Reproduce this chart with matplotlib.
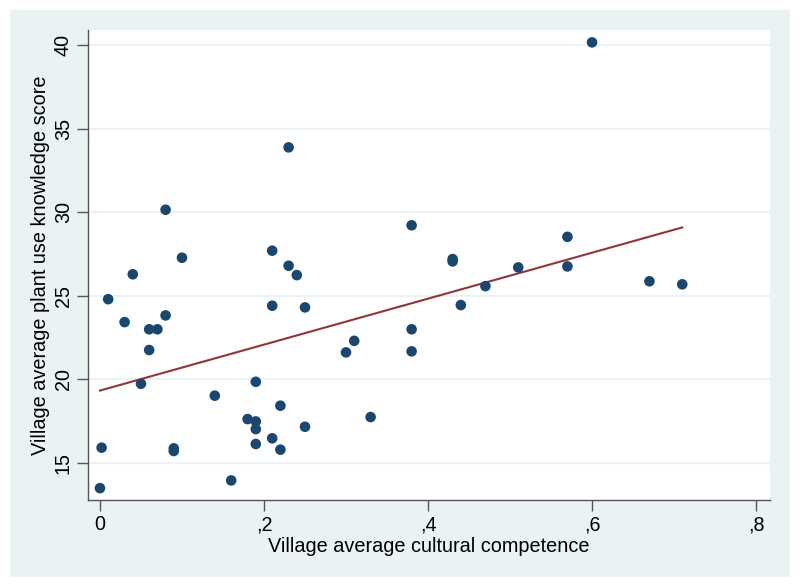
import numpy as np
import matplotlib
matplotlib.use("Agg")
import matplotlib.pyplot as plt
from matplotlib.patches import Rectangle

# Data
competence = [0.00, 0.002, 0.01, 0.03, 0.04, 0.05, 0.06, 0.06, 0.07, 0.08,
              0.08, 0.09, 0.09, 0.10, 0.14, 0.16, 0.18, 0.19, 0.19, 0.19,
              0.19, 0.21, 0.21, 0.21, 0.22, 0.22, 0.23, 0.23, 0.24, 0.25,
              0.25, 0.30, 0.31, 0.33, 0.38, 0.38, 0.38, 0.43, 0.43, 0.44,
              0.47, 0.51, 0.57, 0.57, 0.60, 0.67, 0.71]
knowledge = [13.50, 15.92, 24.80, 23.43, 26.29, 19.74, 23.00, 21.76, 23.00, 23.83,
             30.15, 15.88, 15.72, 27.28, 19.03, 13.96, 17.63, 19.86, 17.49, 17.03,
             16.14, 24.41, 27.70, 16.48, 18.43, 15.80, 33.88, 26.80, 26.24, 24.31,
             17.17, 21.62, 22.31, 17.75, 29.22, 23.00, 21.68, 27.20, 27.06, 24.45,
             25.58, 26.70, 28.53, 26.76, 40.16, 25.87, 25.69]

x_ticks = [0, 0.2, 0.4, 0.6, 0.8]
x_tick_labels = ["0", ",2", ",4", ",6", ",8"]
y_ticks = [15, 20, 25, 30, 35, 40]
y_tick_labels = ["15", "20", "25", "30", "35", "40"]

plt.rcParams['font.family'] = ['Liberation Sans', 'DejaVu Sans']

fig = plt.figure(figsize=(8, 5.87), dpi=100, facecolor='white')
bg = Rectangle((10/800, 10/587), 780/800, 567/587, transform=fig.transFigure,
               facecolor='#EAF2F3', edgecolor='none', zorder=-10)
fig.add_artist(bg)

ax = fig.add_axes([88/800, 87/587, 682/800, 470/587])
ax.set_zorder(1)
ax.set_facecolor('white')

x = np.array(competence)
y = np.array(knowledge)
slope, intercept = np.polyfit(x, y, 1)
xl = np.array([x.min(), x.max()])
ax.plot(xl, intercept + slope * xl, color='#90353B', lw=1.5, zorder=2)
ax.scatter(x, y, s=58, color='#1A476F', edgecolors='none', zorder=3)

ax.set_xlim(-0.0146, 0.817)
ax.set_ylim(12.79, 40.9)
ax.set_xticks(x_ticks)
ax.set_xticklabels(x_tick_labels)
ax.set_yticks(y_ticks)
ax.set_yticklabels(y_tick_labels, rotation=90, va='center')

ax.grid(axis='y', color='#EAF2F3', lw=1.5, zorder=1)
ax.set_axisbelow(True)
for s in ['top', 'right']:
    ax.spines[s].set_visible(False)
for s in ['left', 'bottom']:
    ax.spines[s].set_color('#555555')
    ax.spines[s].set_linewidth(1.0)
ax.tick_params(axis='both', direction='out', length=8, width=1, color='#555555',
               labelsize=14.2, labelcolor='black', pad=3)

ax.set_xlabel("Village average cultural competence", fontsize=14.3, labelpad=2)
ax.set_ylabel("Village average plant use knowledge score", fontsize=14.3, labelpad=3)

fig.savefig("out.png", dpi=100, facecolor='white')
